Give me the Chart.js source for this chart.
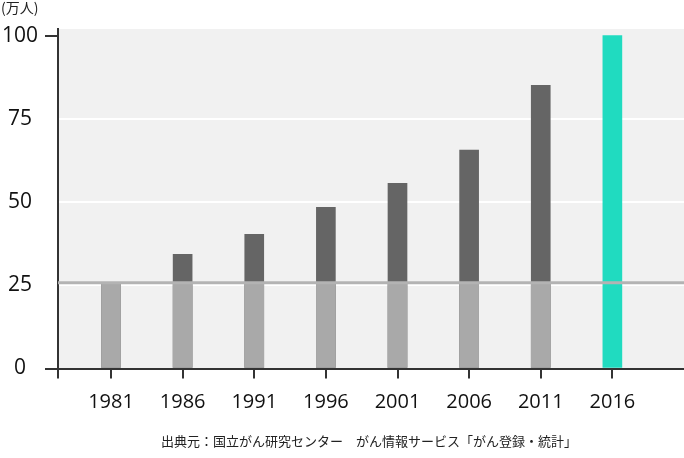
<!DOCTYPE html>
<html>
<head>
<meta charset="utf-8">
<script src="https://cdn.jsdelivr.net/npm/chart.js@4.4.0/dist/chart.umd.min.js"></script>
<style>
  html, body { margin: 0; padding: 0; background: #fff; }
  #wrap { width: 684px; height: 458px; position: relative; }
</style>
</head>
<body>
<div id="wrap"><canvas id="myChart"></canvas></div>
<script>
let ctx = document.getElementById('myChart')

const years = [1981, 1986, 1991, 1996, 2001, 2006, 2011, 2016]
const totals = [25.8, 34.3, 40.3, 48.4, 55.6, 65.6, 85.1, 100]
const baseLevel = [25.8, 25.8, 25.8, 25.8, 25.8, 25.8, 25.8, null]
const yTicks = [0, 25, 50, 75, 100]
const unitLabel = '(万人)'
const sourceText = '出典元：国立がん研究センター　がん情報サービス「がん登録・統計」'

const lightGray = '#a9a9a9'
const darkGray = '#656565'
const teal = '#20dbc0'
const refLineLevel = 25.8

const extras = {
  id: 'extras',
  beforeDraw(chart) {
    const { ctx, chartArea } = chart
    ctx.save()
    ctx.fillStyle = '#f1f1f1'
    ctx.fillRect(chartArea.left, chartArea.top, chartArea.right - chartArea.left, chartArea.bottom - chartArea.top)
    ctx.restore()
  },
  afterDatasetsDraw(chart) {
    const { ctx, chartArea, scales } = chart
    const y = scales.y.getPixelForValue(refLineLevel)
    ctx.save()
    ctx.strokeStyle = '#b3b3b3'
    ctx.lineWidth = 3
    ctx.beginPath()
    ctx.moveTo(chartArea.left, y)
    ctx.lineTo(chartArea.right, y)
    ctx.stroke()
    ctx.restore()
  },
  afterDraw(chart) {
    const { ctx, chartArea } = chart
    ctx.save()
    ctx.fillStyle = '#222'
    ctx.textBaseline = 'middle'
    ctx.font = '14px "Noto Sans CJK JP", sans-serif'
    ctx.textAlign = 'left'
    ctx.fillText(unitLabel, 1, 8)
    ctx.font = '13px "Noto Sans CJK JP", sans-serif'
    ctx.textAlign = 'center'
    ctx.fillText(sourceText, (chartArea.left + chartArea.right) / 2 - 2, 441)
    ctx.restore()
  }
}

let myChart = new Chart(ctx, {
  type: 'bar',
  data: {
    datasets: [{
      label: 'base',
      data: years.map((yr, i) => ({ x: yr, y: baseLevel[i] })),
      backgroundColor: lightGray,
      barThickness: 19,
      grouped: false,
      order: 0,
    }, {
      label: 'total',
      data: years.map((yr, i) => ({ x: yr, y: totals[i] })),
      backgroundColor: years.map((yr, i) => i === years.length - 1 ? teal : darkGray),
      barThickness: 19,
      grouped: false,
      order: 1,
    }]
  },
  options: {
    responsive: true,
    maintainAspectRatio: false,
    animation: false,
    layout: { padding: { left: 0, right: 0, top: 29, bottom: 0 } },
    plugins: { legend: { display: false }, tooltip: { enabled: false } },
    scales: {
      x: {
        type: 'linear',
        offset: false,
        min: 1977.3,
        max: 2021,
        afterBuildTicks: axis => { axis.ticks = [1977.3, ...years].map(v => ({ value: v })) },
        afterFit: axis => { axis.height = 89.5 },
        grid: { offset: false, drawOnChartArea: false, color: '#333', tickLength: 10, lineWidth: 2 },
        border: { color: '#333', width: 2 },
        ticks: {
          color: '#111',
          font: { family: '"Open Sans", "Noto Sans", sans-serif', size: 20 },
          padding: 12,
          maxRotation: 0,
          autoSkip: false,
          callback: v => years.includes(v) ? String(v) : ''
        }
      },
      y: {
        min: 0,
        max: 102,
        afterBuildTicks: axis => { axis.ticks = yTicks.map(v => ({ value: v })) },
        afterFit: axis => { axis.width = 58 },
        grid: {
          color: c => (c.tick && c.tick.value > 0 && c.tick.value < 100) ? '#ffffff' : 'rgba(0,0,0,0)',
          tickColor: c => (c.tick && (c.tick.value === 0 || c.tick.value === 100)) ? '#333' : 'rgba(0,0,0,0)',
          lineWidth: 2,
          tickLength: 13,
        },
        border: { color: '#333', width: 2 },
        ticks: {
          color: '#111',
          font: { family: '"Open Sans", "Noto Sans", sans-serif', size: 21 },
          padding: 7,
          crossAlign: 'center',
        }
      }
    }
  },
  plugins: [extras]
})
</script>
</body>
</html>
